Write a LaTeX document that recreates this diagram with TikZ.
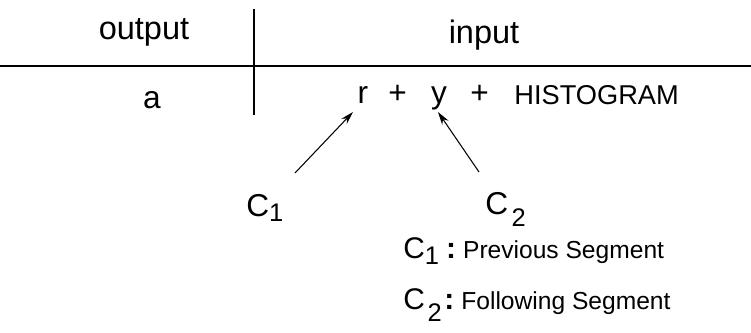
\documentclass[tikz,border=0pt]{standalone}
\usepackage{fontspec}
\setmainfont{Liberation Sans}
\usetikzlibrary{arrows.meta, positioning}
\tikzset{
  head/.style={
    font=\fontsize{18.5}{20}\selectfont,
    inner sep=0pt,
    anchor=base
  },
  term/.style={
    font=\fontsize{18}{20}\selectfont,
    inner sep=0pt,
    anchor=base
  },
  cname/.style={
    font=\fontsize{18}{20}\selectfont,
    inner sep=0pt,
    anchor=base west
  },
  rule/.style={
    line width=1.1pt
  },
  arrow/.style={
    line width=0.6pt,
    -{Stealth[length=2.6mm, width=1.5mm]}
  }
}
% C with a lowered index: #1 index, #2 gap, #3 drop
\newcommand{\ctx}[3]{C\hspace{#2}\raisebox{-#3}{\fontsize{14.5}{16}\selectfont #1}}
\newcommand{\legtext}[1]{{\fontsize{14}{16}\selectfont #1}}

\begin{document}
\begin{tikzpicture}[x=0.02cm, y=-0.02cm]
  \useasboundingbox (0,0) rectangle (751,333);

  % TABLE HEAD
  \node (out) [head] at (144,40) {output};
  \node (in)  [head] at (484,44) {input};
  \draw[rule] (0,66) -- (751,66);
  \draw[line width=0.75pt] (254,9) -- (254,115);

  % TABLE ROW
  \node (a)     [term] at (152,109) {a};
  \node (r)     [term] at (363,104) {r};
  \node (plus1) [term] at (397.5,104) {+};
  \node (y)     [term] at (439,104) {y};
  \node (plus2) [term] at (479.5,104) {+};
  \node (hist)  [term, font=\fontsize{15.5}{17}\selectfont, anchor=base west] at (514,105) {HISTOGRAM};

  % CONTEXTS
  \node (c1) [cname] at (246,217) {\ctx{1}{0pt}{2.8pt}};
  \node (c2) [cname] at (485,215) {\ctx{2}{2pt}{6.8pt}};
  \coordinate (t1) at (295,173);
  \coordinate (t2) at (479,172);
  \draw[arrow] (t1) -- ([xshift=-0.2cm, yshift=-0.16cm]r.base);
  \draw[arrow] (t2) -- ([xshift=-0.02cm, yshift=-0.16cm]y.base);

  % LEGEND
  \node (leg1) [cname, font=\fontsize{17}{19}\selectfont] at (403,259) {\ctx{1}{0pt}{3.4pt}\hspace{4pt}\textbf{:}\hspace{4pt}\legtext{Previous Segment}};
  \node (leg2) [cname, font=\fontsize{17}{19}\selectfont] at (403,310) {\ctx{2}{1.5pt}{6.8pt}\hspace{1.5pt}\textbf{:}\hspace{4pt}\legtext{Following Segment}};

\end{tikzpicture}
\end{document}
